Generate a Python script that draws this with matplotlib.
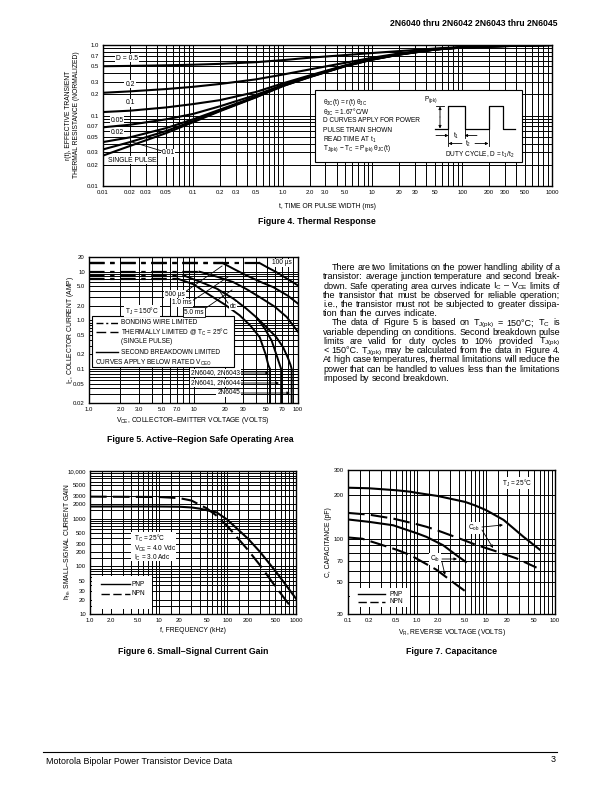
import numpy as np
import matplotlib
matplotlib.use("Agg")
import matplotlib.pyplot as plt
from matplotlib.ticker import FixedLocator, FixedFormatter, NullFormatter
from matplotlib.patches import Rectangle, FancyArrowPatch
from matplotlib.lines import Line2D

plt.rcParams['font.family'] = ['Liberation Sans', 'DejaVu Sans']
plt.rcParams['mathtext.fontset'] = 'custom'
plt.rcParams['mathtext.rm'] = 'Liberation Sans'
plt.rcParams['mathtext.it'] = 'Liberation Sans:italic'
plt.rcParams['mathtext.bf'] = 'Liberation Sans:bold'
plt.rcParams['mathtext.default'] = 'regular'

# ------------------------------------------------------------------ data
# Figure 4 - thermal response
t_ms = [0.01, 0.02, 0.05, 0.1, 0.2, 0.5, 1, 2, 5, 10, 20, 50, 100, 200, 500, 1000]
r_single = [0.027, 0.037, 0.056, 0.080, 0.115, 0.18, 0.26, 0.35, 0.50, 0.62, 0.73, 0.86, 0.92, 0.95, 0.98, 1.0]
r_d001 = [0.033, 0.042, 0.060, 0.083, 0.117, 0.182, 0.262, 0.352, 0.502, 0.622, 0.732, 0.862, 0.922, 0.952, 0.982, 1.0]
r_d002 = [0.042, 0.049, 0.066, 0.088, 0.121, 0.185, 0.265, 0.355, 0.505, 0.625, 0.735, 0.864, 0.923, 0.953, 0.982, 1.0]
r_d005 = [0.068, 0.074, 0.088, 0.105, 0.135, 0.195, 0.27, 0.36, 0.51, 0.63, 0.74, 0.866, 0.924, 0.954, 0.983, 1.0]
r_d01 = [0.112, 0.117, 0.130, 0.145, 0.165, 0.215, 0.285, 0.37, 0.515, 0.635, 0.745, 0.868, 0.926, 0.955, 0.983, 1.0]
r_d02 = [0.21, 0.22, 0.237, 0.255, 0.28, 0.325, 0.38, 0.45, 0.56, 0.66, 0.76, 0.875, 0.93, 0.96, 0.985, 1.0]
r_d05 = [0.50, 0.505, 0.515, 0.525, 0.54, 0.57, 0.61, 0.66, 0.72, 0.77, 0.82, 0.89, 0.935, 0.965, 0.988, 1.0]
f4_xticks = [0.01, 0.02, 0.03, 0.05, 0.1, 0.2, 0.3, 0.5, 1, 2, 3, 5, 10, 20, 30, 50, 100, 200, 300, 500, 1000]
f4_xlabels = ["0.01", "0.02", "0.03", "0.05", "0.1", "0.2", "0.3", "0.5", "1.0", "2.0", "3.0", "5.0",
              "10", "20", "30", "50", "100", "200", "300", "500", "1000"]
f4_yticks = [0.01, 0.02, 0.03, 0.05, 0.07, 0.1, 0.2, 0.3, 0.5, 0.7, 1.0]
f4_ylabels = ["0.01", "0.02", "0.03", "0.05", "0.07", "0.1", "0.2", "0.3", "0.5", "0.7", "1.0"]

# Figure 5 - safe operating area (V, A)
soa_100us_v = [1.0, 43, 50, 62, 80, 100]
soa_100us_i = [15, 15, 12.5, 9.8, 7.0, 5.2]
soa_500us_v = [1.0, 19, 25, 32, 45, 58, 80, 100]
soa_500us_i = [15, 15, 11, 8.4, 6.0, 4.8, 3.2, 2.2]
soa_1ms_v = [1.0, 11.4, 17, 24, 32, 43, 60, 78, 100]
soa_1ms_i = [10, 10, 7.8, 6.1, 4.4, 3.0, 1.9, 1.17, 0.58]
soa_5ms_v = [1.0, 8.5, 12, 16.6, 24, 32, 40, 50, 62, 72, 80, 85, 87, 87]
soa_5ms_i = [8.0, 8.0, 6.0, 4.5, 2.8, 1.74, 1.15, 0.72, 0.45, 0.28, 0.17, 0.12, 0.1, 0.02]
soa_dc_v = [1.0, 7.0, 10, 14.3, 20, 27.6, 35, 43, 49, 52, 54, 54]
soa_dc_i = [7.2, 7.2, 5.5, 3.3, 2.1, 1.27, 0.78, 0.45, 0.2, 0.12, 0.1, 0.02]
soa_mid_v = [40, 48, 56, 63, 67, 69, 69]
soa_mid_i = [1.15, 0.68, 0.38, 0.18, 0.12, 0.1, 0.02]
f5_xticks = [1, 2, 3, 5, 7, 10, 20, 30, 50, 70, 100]
f5_xlabels = ["1.0", "2.0", "3.0", "5.0", "7.0", "10", "20", "30", "50", "70", "100"]
f5_yticks = [0.02, 0.05, 0.1, 0.2, 0.5, 1, 2, 5, 10, 20]
f5_ylabels = ["0.02", "0.05", "0.1", "0.2", "0.5", "1.0", "2.0", "5.0", "10", "20"]

# Figure 6 - small-signal current gain
f_pnp = [1, 10, 20, 30, 40, 70, 100, 200, 300, 500, 700, 1000]
hfe_pnp = [1800, 1800, 1780, 1720, 1620, 1350, 950, 380, 200, 80, 42, 21]
f_npn = [1, 10, 20, 30, 50, 70, 100, 200, 300, 500, 700, 850]
hfe_npn = [2900, 2850, 2700, 2400, 1650, 1150, 700, 220, 105, 38, 20, 14]
f6_xticks = [1, 2, 5, 10, 20, 50, 100, 200, 500, 1000]
f6_xlabels = ["1.0", "2.0", "5.0", "10", "20", "50", "100", "200", "500", "1000"]
f6_yticks = [10, 20, 30, 50, 100, 200, 300, 500, 1000, 2000, 3000, 5000, 10000]
f6_ylabels = ["10", "20", "30", "50", "100", "200", "300", "500", "1000", "2000", "3000", "5000", "10,000"]

# Figure 7 - capacitance
vr_pnp_cob = [0.1, 0.2, 0.5, 0.8, 1.0, 2.0, 5.0, 7.0, 10, 18, 35, 60]
c_pnp_cob = [226, 224, 217, 212, 208, 198, 180, 170, 158, 135, 103, 84]
vr_npn_cob = [0.1, 0.2, 0.45, 1.0, 1.37, 2.0, 4.2, 7.0, 12.7, 27.7, 54]
c_npn_cob = [151, 147, 138, 126, 121, 114, 100, 91, 83, 73, 63]
vr_pnp_cib = [0.1, 0.2, 0.45, 1.0, 1.37, 2.4, 3.7, 5.1]
c_pnp_cib = [136, 131, 124, 109, 103, 90, 77, 69]
vr_npn_cib = [0.1, 0.16, 0.26, 0.5, 0.8, 1.2, 1.9, 3.3, 4.9]
c_npn_cib = [102, 100, 93, 84, 77, 69, 61, 50, 43.5]
f7_xticks = [0.1, 0.2, 0.5, 1, 2, 5, 10, 20, 50, 100]
f7_xlabels = ["0.1", "0.2", "0.5", "1.0", "2.0", "5.0", "10", "20", "50", "100"]
f7_yticks = [30, 50, 70, 100, 200, 300]
f7_ylabels = ["30", "50", "70", "100", "200", "300"]

paragraph1 = [
    "There are two limitations on the power handling ability of a",
    "transistor: average junction temperature and second break-",
    "down. Safe operating area curves indicate I$_C$ \u2013 V$_{CE}$ limits of",
    "the transistor that must be observed for reliable operation;",
    "i.e., the transistor must not be subjected to greater dissipa-",
    "tion than the curves indicate.",
]
paragraph2 = [
    "The data of Figure 5 is based on T$_{J(pk)}$ = 150\u00b0C; T$_C$ is",
    "variable depending on conditions. Second breakdown pulse",
    "limits are valid for duty cycles to 10% provided T$_{J(pk)}$",
    "< 150\u00b0C. T$_{J(pk)}$ may be calculated from the data in Figure 4.",
    "At high case temperatures, thermal limitations will reduce the",
    "power that can be handled to values less than the limitations",
    "imposed by second breakdown.",
]

# ------------------------------------------------------------------ helpers
W, H = 612.0, 792.0
fig = plt.figure(figsize=(6.12, 7.92), dpi=100)
renderer = fig.canvas.get_renderer()


def P(x, y):
    return (x / W, 1 - y / H)


def add_axes_px(x0, y0, x1, y1):
    return fig.add_axes([x0 / W, 1 - y1 / H, (x1 - x0) / W, (y1 - y0) / H])


def log_grid(lo, hi, subs=(1, 2, 3, 4, 5, 6, 7, 8, 9)):
    out = []
    for e in range(int(np.floor(np.log10(lo))) - 1, int(np.ceil(np.log10(hi))) + 1):
        for s in subs:
            v = s * 10.0 ** e
            if lo * 0.999 <= v <= hi * 1.001:
                out.append(v)
    return out


def style_log(ax, xlim, ylim, xt, xl, yt, yl, xminor, yminor, fs=4.3, glw=0.7):
    ax.set_xscale('log')
    ax.set_yscale('log')
    ax.set_xlim(xlim)
    ax.set_ylim(ylim)
    ax.xaxis.set_major_locator(FixedLocator(xt))
    ax.xaxis.set_major_formatter(FixedFormatter(xl))
    ax.yaxis.set_major_locator(FixedLocator(yt))
    ax.yaxis.set_major_formatter(FixedFormatter(yl))
    ax.xaxis.set_minor_locator(FixedLocator(xminor))
    ax.xaxis.set_minor_formatter(NullFormatter())
    ax.yaxis.set_minor_locator(FixedLocator(yminor))
    ax.yaxis.set_minor_formatter(NullFormatter())
    ax.grid(True, which='both', color='black', lw=glw)
    ax.tick_params(which='both', length=0, labelsize=fs, pad=3)
    for s in ax.spines.values():
        s.set_linewidth(1.0)
    ax.set_axisbelow(True)


def T(x, y, s, fs=4.9, ha='left', va='center', z=7, **kw):
    return fig.text(x / W, 1 - y / H, s, fontsize=fs, ha=ha, va=va, zorder=z, **kw)


def box(x0, y0, x1, y1, ec='black', lw=0.8, z=5):
    fig.add_artist(Rectangle(P(x0, y1), (x1 - x0) / W, (y1 - y0) / H, transform=fig.transFigure,
                             fc='white', ec=ec, lw=lw, zorder=z))


def L(xs, ys, lw=0.8, ls='-', z=6, **kw):
    fig.add_artist(Line2D([x / W for x in xs], [1 - y / H for y in ys], transform=fig.transFigure,
                          color='black', lw=lw, ls=ls, zorder=z, **kw))


def A(x0, y0, x1, y1, lw=0.6, ms=4, z=8):
    fig.add_artist(FancyArrowPatch(P(x0, y0), P(x1, y1), transform=fig.transFigure,
                                   arrowstyle='-|>', mutation_scale=ms, lw=lw, color='black',
                                   zorder=z, shrinkA=0, shrinkB=0))


def measure(s, fs, **kw):
    t = fig.text(0, 0, s, fontsize=fs, **kw)
    w = t.get_window_extent(renderer).width
    t.remove()
    return w


WB = dict(fc='white', ec='none', pad=0.6)

# ------------------------------------------------------------------ header / footer
hdr = "2N6040 thru 2N6042 2N6043 thru 2N6045"
hfs = 10 * 167.0 / measure(hdr, 10, fontweight='bold')
T(557, 23, hdr, fs=hfs, ha='right', fontweight='bold')
L([43, 557], [752, 752], lw=0.8)
T(46, 761, "Motorola Bipolar Power Transistor Device Data", fs=6.4)
T(556, 759, "3", fs=6.4, ha='right')

# ------------------------------------------------------------------ Figure 4
ax4 = add_axes_px(103, 45, 552, 186)
style_log(ax4, (0.01, 1000), (0.01, 1.0), f4_xticks, f4_xlabels, f4_yticks, f4_ylabels,
          log_grid(0.01, 1000), log_grid(0.01, 1.0))
for r in (r_single, r_d001, r_d002, r_d005, r_d01, r_d02, r_d05):
    ax4.plot(t_ms, r, color='black', lw=1.5, zorder=3)
T(327, 207, "t, TIME OR PULSE WIDTH (ms)", fs=4.9, ha='center')
T(69, 115, "r(t), EFFECTIVE TRANSIENT", fs=4.9, ha='center', rotation=90)
T(76, 115, "THERMAL RESISTANCE (NORMALIZED)", fs=4.9, ha='center', rotation=90)
T(317, 222, "Figure 4. Thermal Response", fs=6.35, ha='center', fontweight='bold')

T(127, 58, "D = 0.5", fs=4.9, ha='center', bbox=WB)
T(130, 84, "0.2", fs=4.9, ha='center', bbox=WB)
T(130, 103, "0.1", fs=4.9, ha='center', bbox=WB)
T(117, 120, "0.05", fs=4.9, ha='center', bbox=WB)
T(117, 132, "0.02", fs=4.9, ha='center', bbox=WB)
T(168, 153, "0.01", fs=4.9, ha='center', bbox=WB)
T(132, 160, "SINGLE PULSE", fs=4.9, ha='center', bbox=WB)
L([162, 132], [151, 142], lw=0.6, z=8)

box(315, 90, 522, 162)
rows4 = [102, 112, 121, 130, 139.5, 149]
T(323, rows4[0], "\u03b8$_{JC}$(t) = r(t) \u03b8$_{JC}$", fs=4.7)
T(323, rows4[1], "\u03b8$_{JC}$ = 1.67\u00b0C/W", fs=4.7)
T(323, rows4[2], "D CURVES APPLY FOR POWER", fs=4.7)
T(323, rows4[3], "PULSE TRAIN SHOWN", fs=4.7)
T(323, rows4[4], "READ TIME AT t$_1$", fs=4.7)
T(323, rows4[5], "T$_{J(pk)}$ \u2212 T$_C$ = P$_{(pk)}$ \u03b8$_{JC}$(t)", fs=4.7)
# pulse train sketch
L([435, 448.5, 448.5, 464.5, 464.5, 488.5, 488.5, 503, 503, 515],
  [129, 129, 106, 106, 129, 129, 106, 106, 129, 129], lw=0.9)
T(431, 100, "P$_{(pk)}$", fs=4.7, ha='center')
A(440, 117, 440, 106.5)
A(440, 117, 440, 128.5)
L([436, 444], [106, 106], lw=0.6)
L([448.5, 448.5], [129, 146], lw=0.6)
L([464.5, 464.5], [129, 138], lw=0.6)
L([488.5, 488.5], [129, 146], lw=0.6)
A(436, 135.5, 448.5, 135.5)
A(477, 135.5, 464.5, 135.5)
T(456.5, 136, "t$_1$", fs=4.7, ha='center')
A(462, 143.5, 448.5, 143.5)
A(475, 143.5, 488.5, 143.5)
T(468.5, 144, "t$_2$", fs=4.7, ha='center')
T(480, 155, "DUTY CYCLE, D = t$_1$/t$_2$", fs=4.7, ha='center')

# ------------------------------------------------------------------ Figure 5
ax5 = add_axes_px(89, 257, 298, 403)
style_log(ax5, (1, 100), (0.02, 20), f5_xticks, f5_xlabels, f5_yticks, f5_ylabels,
          log_grid(1, 100), log_grid(0.02, 20))
for v, i in ((soa_100us_v, soa_100us_i), (soa_500us_v, soa_500us_i), (soa_1ms_v, soa_1ms_i),
             (soa_5ms_v, soa_5ms_i), (soa_dc_v, soa_dc_i)):
    ax5.plot(v[:2], i[:2], color='black', lw=1.6, ls=(0, (7, 2.5, 2, 2.5)), zorder=3)
    ax5.plot(v[1:], i[1:], color='black', lw=1.4, zorder=3)
ax5.plot(soa_mid_v, soa_mid_i, color='black', lw=1.4, zorder=3)
T(193, 421, "V$_{CE}$, COLLECTOR\u2013EMITTER VOLTAGE (VOLTS)", fs=4.9, ha='center')
T(70, 330, "I$_C$, COLLECTOR CURRENT (AMP)", fs=4.9, ha='center', rotation=90)
T(200, 440, "Figure 5. Active\u2013Region Safe Operating Area", fs=6.35, ha='center', fontweight='bold')

T(282, 263, "100 \u00b5s", fs=4.7, ha='center', bbox=WB)
T(175, 294, "500 \u00b5s", fs=4.7, ha='center', bbox=WB)
L([185, 222], [292, 266], lw=0.6)
T(182, 303, "1.0 ms", fs=4.7, ha='center', bbox=WB)
L([192, 228], [301, 277], lw=0.6)
T(194, 312, "5.0 ms", fs=4.7, ha='center', bbox=dict(fc='white', ec='black', lw=0.6, pad=0.8))
L([203, 232], [310, 290], lw=0.6)
T(233, 306, "dc", fs=4.7, ha='center', bbox=WB)
L([228, 218], [303, 289], lw=0.6)

box(92, 316, 234, 367)
T(142, 311, "T$_J$ = 150\u00b0C", fs=4.7, ha='center', bbox=WB)
L([96, 118], [322.5, 322.5], lw=1.0, ls=(0, (5, 2, 1.5, 2)))
T(121, 322.5, "BONDING WIRE LIMITED", fs=4.7)
L([96, 118], [332, 332], lw=1.0, ls=(0, (7, 3)))
T(121, 332, "THERMALLY LIMITED @ T$_C$ = 25\u00b0C", fs=4.7)
T(121, 341.5, "(SINGLE PULSE)", fs=4.7)
L([96, 118], [352, 352], lw=1.0)
T(121, 352, "SECOND BREAKDOWN LIMITED", fs=4.7)
T(95, 362.5, "CURVES APPLY BELOW RATED V$_{CEO}$", fs=4.7)

T(240, 373, "2N6040, 2N6043", fs=4.7, ha='right', bbox=WB)
A(241, 373, 269, 373)
T(240, 383, "2N6041, 2N6044", fs=4.7, ha='right', bbox=WB)
A(241, 383, 279, 383)
T(240, 393, "2N6045", fs=4.7, ha='right', bbox=WB)
A(241, 393, 290, 393)

# ------------------------------------------------------------------ paragraph text
x_left, x_right, indent = 323.3, 560.0, 8.4
y0, dy = 267.7, 9.22
lines = [(s, k == 0, k < len(paragraph1) - 1) for k, s in enumerate(paragraph1)] + \
        [(s, k == 0, k < len(paragraph2) - 1) for k, s in enumerate(paragraph2)]

pfs = 6.45
space = 0.25 * pfs * 100 / 72
min_gap = 0.1 * pfs * 100 / 72
for n, (s, ind, just) in enumerate(lines):
    words = s.split(' ')
    ws = [measure(w, pfs) for w in words]
    xs = x_left + (indent if ind else 0)
    avail = x_right - xs
    gap = max(min_gap, (avail - sum(ws)) / (len(words) - 1)) if just else space
    y = y0 + n * dy
    for w, wd in zip(words, ws):
        T(xs, y + 2.4, w, fs=pfs, va='baseline')
        xs += wd + gap

# ------------------------------------------------------------------ Figure 6
ax6 = add_axes_px(90, 471, 296, 614)
style_log(ax6, (1, 1000), (10, 10000), f6_xticks, f6_xlabels, f6_yticks, f6_ylabels,
          log_grid(1, 1000, (1, 1.5, 2, 3, 4, 5, 6, 7, 8, 9)), log_grid(10, 10000, (1, 1.5, 2, 3, 4, 5, 6, 7, 8, 9)))
ax6.plot(f_pnp, hfe_pnp, color='black', lw=1.5, zorder=3)
ax6.plot(f_npn, hfe_npn, color='black', lw=1.5, ls=(0, (8, 3)), zorder=3)
T(193, 631, "f, FREQUENCY (kHz)", fs=4.9, ha='center')
T(68, 542, "h$_{fe}$, SMALL\u2013SIGNAL CURRENT GAIN", fs=4.9, ha='center', rotation=90)
T(193, 651, "Figure 6. Small\u2013Signal Current Gain", fs=6.35, ha='center', fontweight='bold')

box(131, 532, 176, 561, ec='none')
T(134, 538.5, "T$_C$ = 25\u00b0C", fs=4.7)
T(134, 548.5, "V$_{CE}$ = 4.0 Vdc", fs=4.7)
T(134, 558, "I$_C$ = 3.0 Adc", fs=4.7)
box(92, 576, 152, 609, ec='none')
L([101, 130], [584, 584], lw=1.0)
T(132, 584, "PNP", fs=4.7)
L([101, 130], [593.5, 593.5], lw=1.0, ls=(0, (6, 2.5)))
T(132, 593.5, "NPN", fs=4.7)

# ------------------------------------------------------------------ Figure 7
ax7 = add_axes_px(348, 470, 555, 614)
style_log(ax7, (0.1, 100), (30, 300), f7_xticks, f7_xlabels, f7_yticks, f7_ylabels,
          log_grid(0.1, 100, (1, 1.5, 2, 3, 4, 5, 6, 7, 8, 9)), [30, 40, 50, 60, 70, 80, 90, 100, 150, 200, 300])
ax7.plot(vr_pnp_cob, c_pnp_cob, color='black', lw=1.5, zorder=3)
ax7.plot(vr_pnp_cib, c_pnp_cib, color='black', lw=1.5, zorder=3)
ax7.plot(vr_npn_cob, c_npn_cob, color='black', lw=1.5, ls=(0, (8, 3)), zorder=3)
ax7.plot(vr_npn_cib, c_npn_cib, color='black', lw=1.5, ls=(0, (8, 3)), zorder=3)
T(452, 632, "V$_R$, REVERSE VOLTAGE (VOLTS)", fs=4.9, ha='center')
T(329, 542, "C, CAPACITANCE (pF)", fs=4.9, ha='center', rotation=90)
T(452, 651, "Figure 7. Capacitance", fs=6.35, ha='center', fontweight='bold')

T(517, 483, "T$_J$ = 25\u00b0C", fs=4.7, ha='center', bbox=WB)
T(474, 528, "C$_{ob}$", fs=4.7, ha='center', bbox=WB)
A(482, 527, 503, 525)
A(482, 530, 493, 548)
T(435, 559, "C$_{ib}$", fs=4.7, ha='center', bbox=WB)
A(442, 559, 457, 559)
A(442, 562, 445, 575)
box(350, 588, 410, 607, ec='none')
L([358, 385], [594, 594], lw=1.0)
T(389, 594, "PNP", fs=4.7)
L([358, 385], [601.5, 601.5], lw=1.0, ls=(0, (6, 2.5)))
T(389, 601.5, "NPN", fs=4.7)

fig.savefig("out.png", dpi=100)
